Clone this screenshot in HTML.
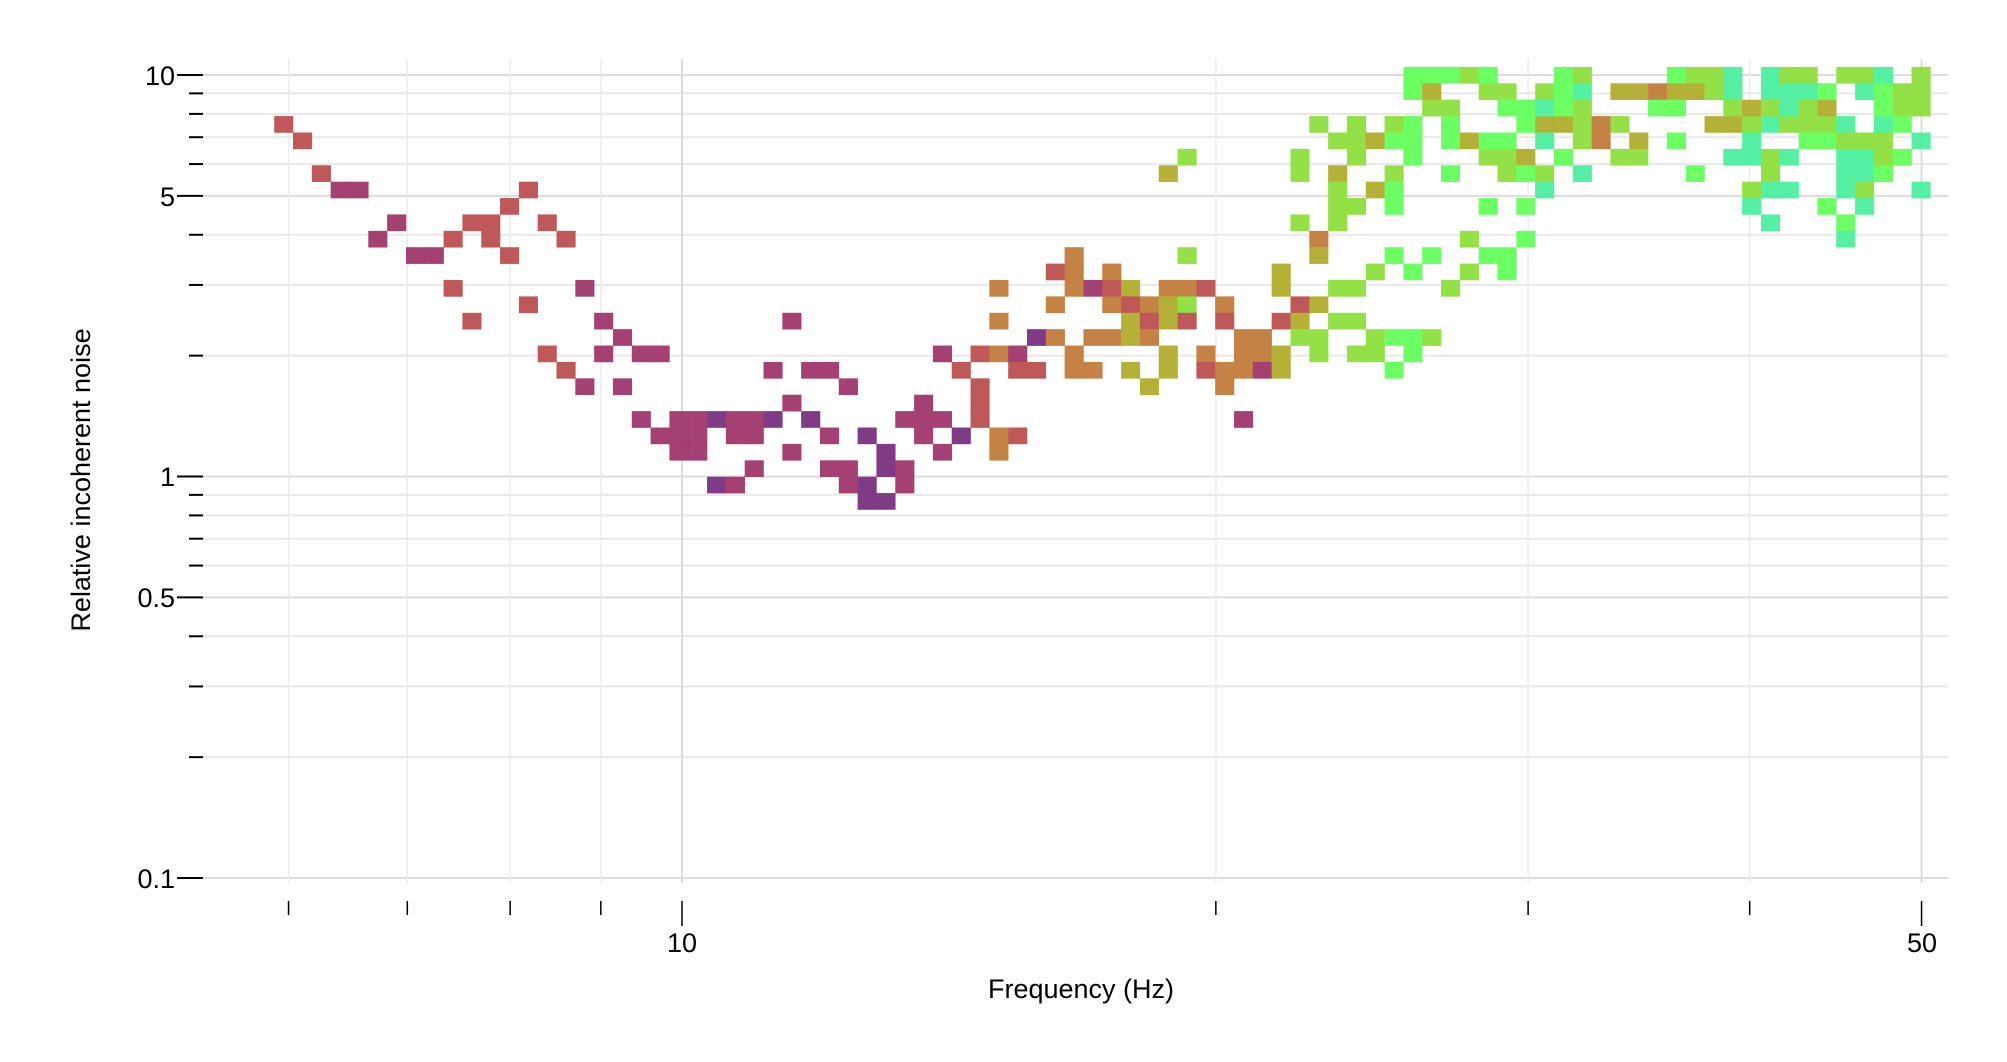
<!DOCTYPE html>
<html><head><meta charset="utf-8"><style>
html,body{margin:0;padding:0;background:#fff;}
svg{display:block;font-family:"Liberation Sans",sans-serif;}
</style></head><body>
<svg id="s" width="2007" height="1062" viewBox="0 0 2007 1062" xmlns="http://www.w3.org/2000/svg">
<g id="grid"></g>
<g id="cells"></g>
<g id="ticks"></g>
<g font-size="27" fill="#000" text-anchor="end">
<text x="175" y="85">10</text>
<text x="175" y="206">5</text>
<text x="175" y="486">1</text>
<text x="175" y="607">0.5</text>
<text x="175" y="888">0.1</text>
</g>
<g font-size="27" fill="#000" text-anchor="middle">
<text x="682" y="952">10</text>
<text x="1922" y="952">50</text>
<text x="1081" y="998">Frequency (Hz)</text>
<text transform="translate(90,480) rotate(-90)">Relative incoherent noise</text>
</g>
</svg>
<script>
(function(){
var NS="http://www.w3.org/2000/svg";
function el(p,n,a){var e=document.createElementNS(NS,n);for(var k in a)e.setAttribute(k,a[k]);p.appendChild(e);return e;}
var grid=document.getElementById("grid"),cells=document.getElementById("cells"),ticks=document.getElementById("ticks");
function Y(v){return 476.5-401.5*Math.log10(v);}
function X(f){return 682+1773.4*Math.log10(f/10);}
var ys=[0.1,0.2,0.3,0.4,0.5,0.6,0.7,0.8,0.9,1,2,3,4,5,6,7,8,9,10];
ys.forEach(function(v){var y=Y(v);var maj=(v==0.1||v==0.5||v==1||v==5||v==10);
el(grid,"line",{x1:203,x2:1948,y1:y,y2:y,stroke:maj?"#dcdcdc":"#e8e8e8","stroke-width":2});
el(ticks,"line",{x1:maj?177:189,x2:203,y1:y,y2:y,stroke:"#000","stroke-width":2});});
[6,7,8,9,10,20,30,40,50].forEach(function(f){var x=X(f);var maj=(f==10||f==50);
el(grid,"line",{x1:x,x2:x,y1:59,y2:883,stroke:maj?"#dcdcdc":"#ececec","stroke-width":maj?2:1.5});
el(ticks,"line",{x1:x,x2:x,y1:901,y2:maj?926:915,stroke:"#000","stroke-width":1.5});});
var C={R:"#bd5454",M:"#a13b6d",P:"#7b3581",O:"#c27e3f",L:"#b3ae32",Y:"#90e040",G:"#66ff5e",T:"#4ff0a0"};
var rows={
"-3":"60G 61G 62G 63Y 64G 68G 69Y 74G 75Y 76Y 77T 79T 80Y 81Y 83Y 84Y 85T 87Y",
"-2":"60G 61L 64Y 65Y 67Y 68G 69T 71L 72L 73O 74L 75L 76Y 77T 79T 80T 81T 82G 84T 85G 86Y 87Y",
"-1":"61Y 62Y 65G 66G 67T 68G 69Y 73G 74G 77Y 78L 79Y 80T 81Y 82L 85G 86Y 87Y",
"0":"0R 55Y 57Y 59Y 60G 62G 66G 67L 68L 69Y 70O 71Y 76L 77L 78Y 79T 80Y 81Y 82Y 83T 85T 86G",
"1":"1R 56Y 57Y 58L 59G 60G 62G 63L 64G 65G 67T 69Y 70O 72L 74G 78T 81G 82G 83Y 84Y 85Y 87T",
"2":"48Y 54Y 57Y 60G 64Y 65Y 66L 68G 71Y 72Y 77T 78T 79Y 80T 83T 84T 85Y 86G",
"3":"2R 47L 54Y 56L 59Y 62G 65Y 66G 67Y 69T 75G 79Y 83T 84T 85G",
"4":"3M 4M 13R 56Y 58L 59G 67T 78Y 79T 80T 83T 84Y 87T",
"5":"12R 56Y 57Y 59G 64G 66G 78T 82G 84T",
"6":"6M 10R 11R 14R 54Y 56Y 79T 83G",
"7":"5M 9R 11R 15R 55O 63Y 66G 83T",
"8":"7M 8M 12R 42O 48Y 55L 59G 61G 64G 65G",
"9":"41R 42O 44O 53L 58Y 60G 63Y 65G",
"10":"9R 16M 38O 42O 43M 44R 45L 47O 48O 49R 53L 56Y 57Y 62Y",
"11":"13R 41O 44O 45R 46O 47L 48Y 50O 54R 55L",
"12":"10R 17M 27M 38O 45L 46R 47L 48R 50R 53R 54L 56Y 57Y",
"13":"18M 40P 41O 43O 44O 45L 46O 51O 52O 54Y 55Y 58Y 59G 60G 61Y",
"14":"14R 17M 19M 20M 35M 37R 38O 39M 42O 47L 49O 51O 52O 53L 55Y 57Y 58Y 60G",
"15":"15R 26M 28M 29M 36R 39R 40R 42O 43O 45L 47L 49R 50O 51O 52M 53L 59G",
"16":"16M 18M 30M 37R 46L 50O",
"17":"27M 34M 37R",
"18":"19M 21M 22M 23P 24M 25M 26P 28P 33M 34M 35M 37R 51M",
"19":"20M 21M 22M 24M 25M 29M 31P 34M 36P 38O 39R",
"20":"21M 22M 27M 32P 35M 38O",
"21":"25M 29M 30M 32P 33M",
"22":"23P 24M 30M 31P 33M",
"23":"31P 32P"};
for(var r in rows){var ri=parseInt(r,10);rows[r].split(" ").forEach(function(t){
var c=parseInt(t,10),col=C[t.charAt(t.length-1)];
el(cells,"rect",{x:(274.2+18.82*c).toFixed(2),y:(116.1+16.39*ri).toFixed(2),width:19.1,height:16.7,fill:col,"fill-opacity":0.97});});}
})();
</script>
</body></html>
